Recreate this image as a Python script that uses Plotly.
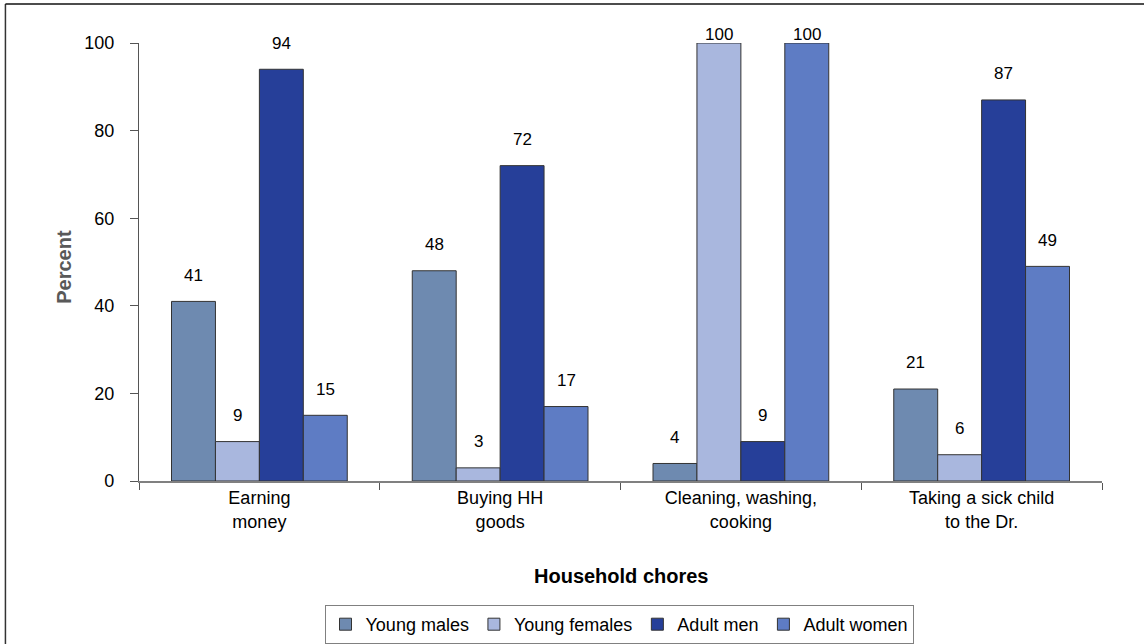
import plotly.graph_objects as go

# Household chores by group (percent)
categories = ["Earning<br>money", "Buying HH<br>goods", "Cleaning, washing,<br>cooking", "Taking a sick child<br>to the Dr."]
series_names = ["Young males", "Young females", "Adult men", "Adult women"]
young_males = [41, 48, 4, 21]
young_females = [9, 3, 100, 6]
adult_men = [94, 72, 9, 87]
adult_women = [15, 17, 100, 49]
y_ticks = [0, 20, 40, 60, 80, 100]

colors = ["#6E8AB0", "#A9B7DE", "#263F99", "#5E7CC4"]
all_series = [young_males, young_females, adult_men, adult_women]

FONT = "Liberation Sans, Arial, sans-serif"
BARGAP = 0.27
Y_MAX = 100

fig = go.Figure()
for name, vals, col in zip(series_names, all_series, colors):
    fig.add_trace(go.Bar(
        name=name, x=categories, y=vals,
        marker=dict(color=col, line=dict(color="#333333", width=1)),
    ))

# Value labels above each bar (kept within the top of the plot)
n = len(series_names)
group_w = 1 - BARGAP
bw = group_w / n
for ci in range(len(categories)):
    for si, vals in enumerate(all_series):
        v = vals[ci]
        xpos = ci - group_w / 2 + bw * (si + 0.5)
        fig.add_annotation(
            x=xpos, y=min(v + 6, 102) / Y_MAX, xref="x", yref="paper",
            xanchor="center", yanchor="middle",
            text=str(v), showarrow=False,
            font=dict(family=FONT, size=17, color="#000000"),
        )

fig.update_layout(
    width=1144, height=644,
    margin=dict(l=139, r=42, t=43, b=163, autoexpand=False),
    paper_bgcolor="white", plot_bgcolor="white",
    barmode="group", bargap=BARGAP, bargroupgap=0,
    font=dict(family=FONT, size=17, color="#000000"),
    showlegend=True,
    legend=dict(
        orientation="h", x=619 / 1144, xref="container", xanchor="center",
        y=1 - 605 / 644, yref="container", yanchor="top",
        bordercolor="#808080", borderwidth=1,
        font=dict(family=FONT, size=18, color="#000000"),
        itemwidth=30, traceorder="normal",
    ),
    xaxis=dict(
        type="category", showline=True, linecolor="#808080", linewidth=1.5,
        ticks="outside", tickson="boundaries", ticklen=7, tickcolor="#555555",
        tickfont=dict(family=FONT, size=18, color="#000000"),
        showgrid=False, zeroline=False, automargin=False,
    ),
    yaxis=dict(
        range=[0, Y_MAX], tickvals=y_ticks, showline=True, linecolor="#555555",
        linewidth=1.2, ticks="outside", ticklen=8, tickcolor="#555555",
        tickfont=dict(family=FONT, size=18, color="#000000"),
        ticklabelstandoff=12,
        showgrid=False, zeroline=False, automargin=False,
    ),
)

# Axis titles
fig.add_annotation(
    x=0.5, y=-0.217, xref="paper", yref="paper", yanchor="middle",
    text="<b>Household chores</b>", showarrow=False,
    font=dict(family=FONT, size=20, color="#000000"),
)
fig.add_annotation(
    x=-0.091, y=0.49, xref="paper", yref="paper",
    text="<b>Percent</b>", textangle=-90, showarrow=False,
    font=dict(family=FONT, size=20, color="#595959"),
)

# Outer chart frame (left and top edges)
fig.add_shape(type="line", xref="paper", yref="paper",
              x0=-0.1387, x1=-0.1387, y0=1.089, y1=-0.5,
              line=dict(color="#333333", width=1.5))
fig.add_shape(type="line", xref="paper", yref="paper",
              x0=-0.1387, x1=1.2, y0=1.089, y1=1.089,
              line=dict(color="#111111", width=1.5))

fig.write_html("out.html")
